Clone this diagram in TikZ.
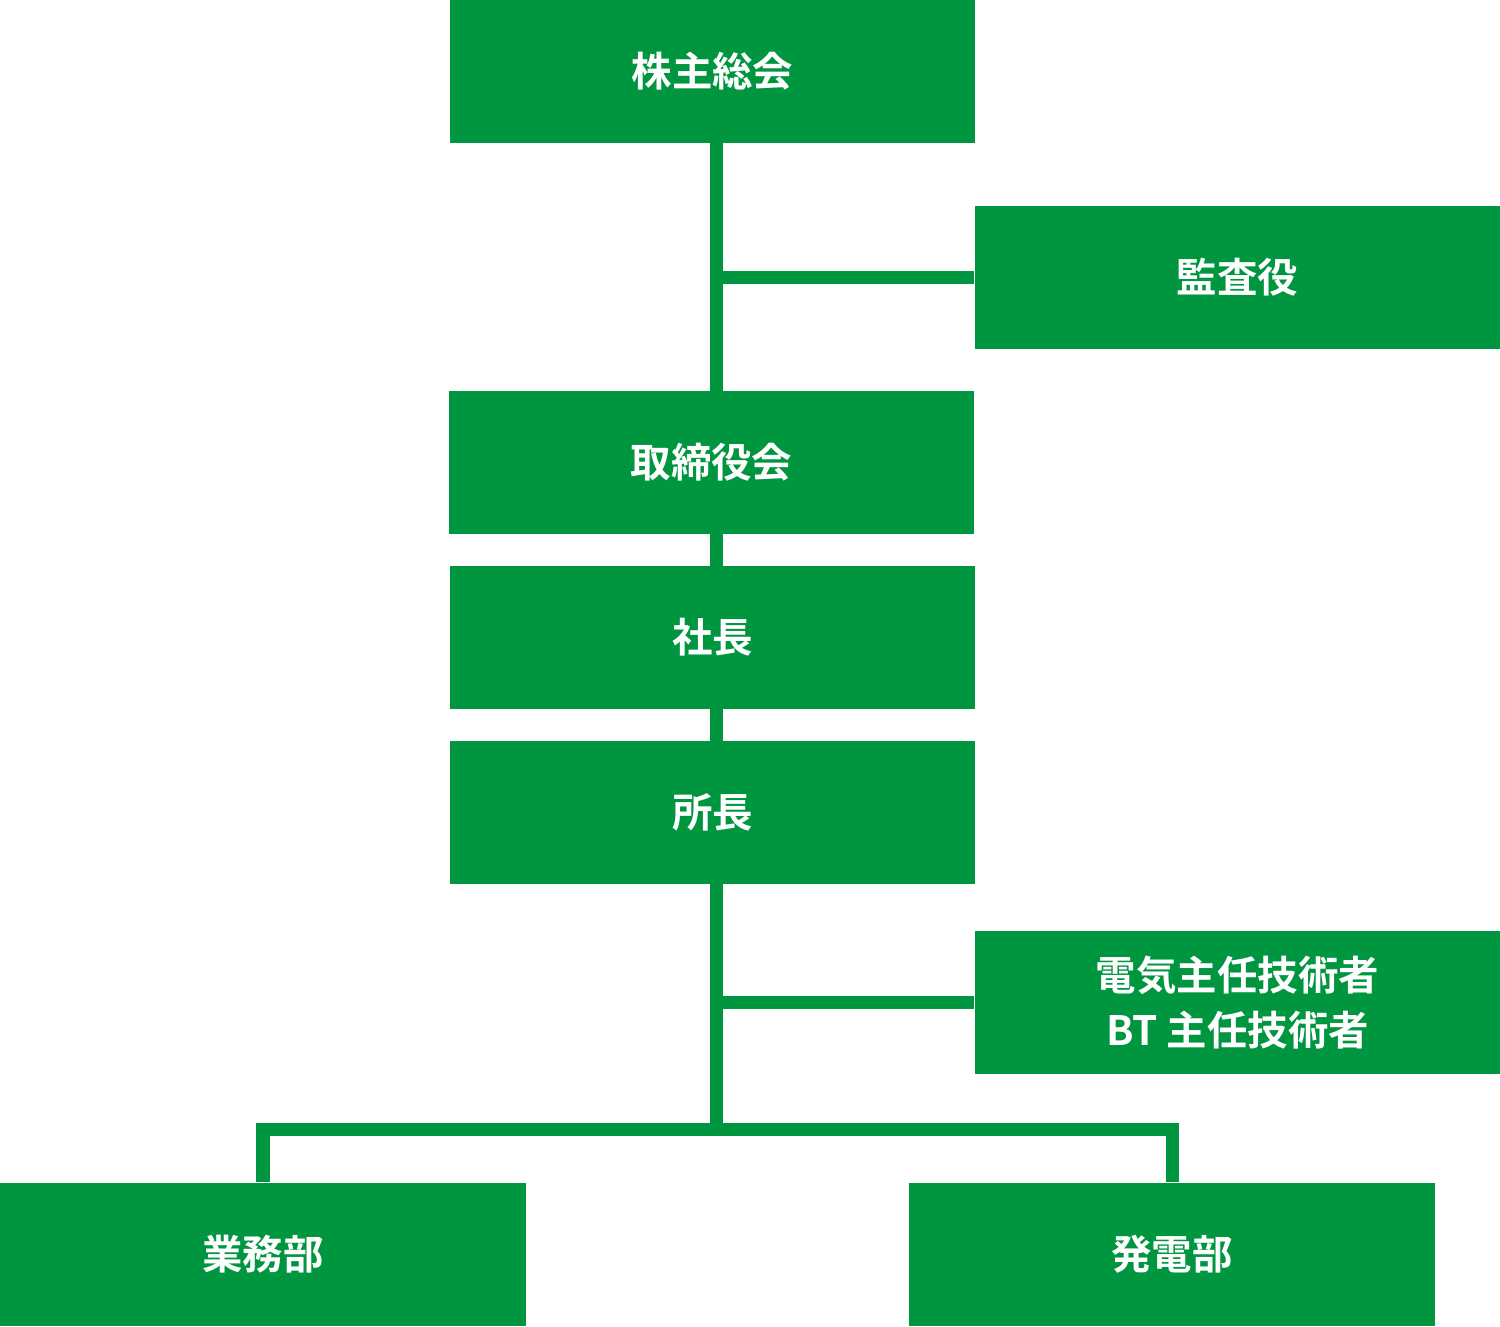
\documentclass[tikz,border=0pt]{standalone}
\usepackage{fontspec}
\newfontfamily\cjk{Noto Sans CJK JP Bold}
\definecolor{grn}{HTML}{009640}
\begin{document}
\begin{tikzpicture}[x=0.01cm,y=-0.01cm]
\tikzset{box/.style={fill=grn,text=white,minimum width=5.25cm,minimum height=1.43cm,inner sep=0pt,font=\cjk\fontsize{11.5}{15.6}\selectfont,align=center},
 ln/.style={draw=grn,line width=0.13cm}}
\useasboundingbox (0,0) rectangle (1500,1326);
\node[box] (a) at (712.5,71.5) {株主総会};
\node[box] (k) at (1237.5,277.5) {監査役};
\node[box] (t) at (711.5,462.5) {取締役会};
\node[box] (s) at (712.5,637.5) {社長};
\node[box] (c) at (712.5,812.5) {所長};
\node[box] (e) at (1237.5,1002.5) {電気主任技術者\\BT 主任技術者};
\node[box] (g) at (263,1254.5) {業務部};
\node[box] (h) at (1172,1254.5) {発電部};
\coordinate (j1) at (716,277.5);
\coordinate (j2) at (716,1002.5);
\coordinate (j3) at (716,1129);
\begin{scope}[on background layer/.try]
\draw[ln] (716,143) -- (716,391);
\draw[ln] (j1) -- (k.west);
\draw[ln] (716,534) -- (716,566);
\draw[ln] (716,709) -- (716,741);
\draw[ln] (716,884) -- (j3);
\draw[ln] (j2) -- (e.west);
\draw[ln] (g.north) |- (j3) -| (h.north);
\end{scope}
\end{tikzpicture}
\end{document}
